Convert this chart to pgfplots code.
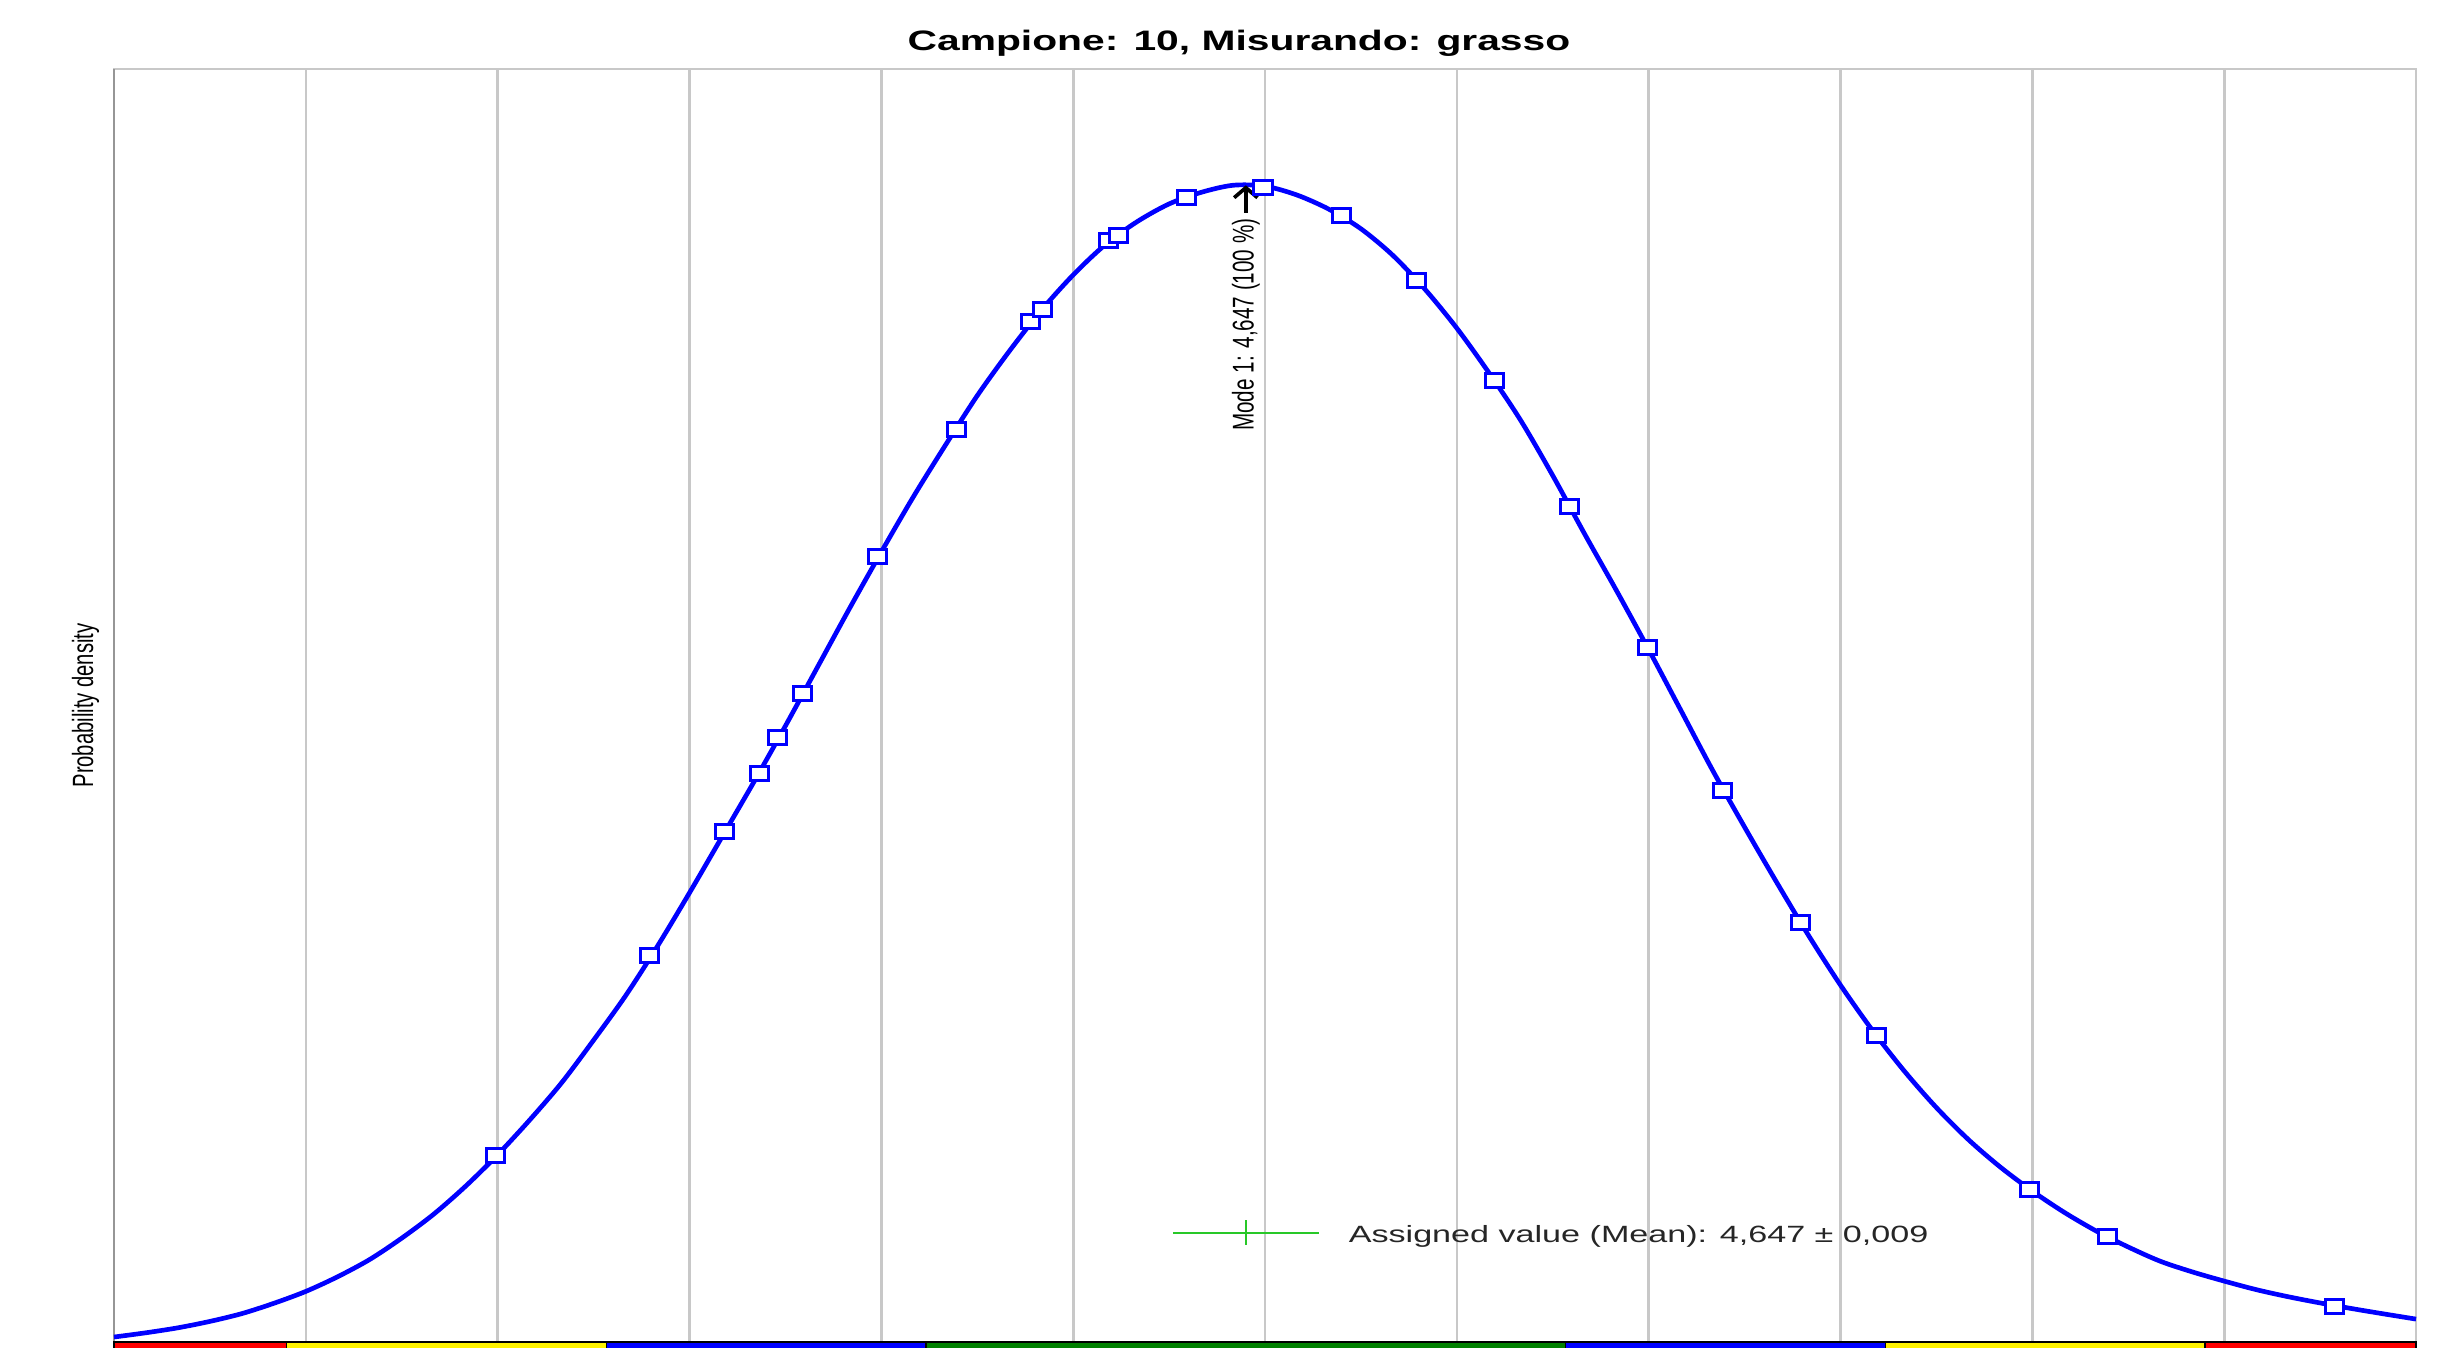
\documentclass[border=0pt]{standalone}
\usepackage{pgfplots}
\pgfplotsset{compat=1.18}
\usepackage{fontspec}
\setmainfont{Liberation Sans}
\usetikzlibrary{arrows.meta}
\definecolor{gridgray}{RGB}{200,200,200}
\definecolor{axgray}{RGB}{150,150,150}
\definecolor{lgreen}{RGB}{40,200,40}
\definecolor{bandgreen}{RGB}{0,128,0}
\definecolor{pureblue}{RGB}{0,0,255}

\pgfplotstableread{
x y
4.470 0.028
4.475 0.052
4.480 0.080
4.485 0.116
4.490 0.160
4.495 0.218
4.500 0.285
4.505 0.368
4.510 0.465
4.515 0.585
4.520 0.720
4.525 0.878
4.530 1.055
4.535 1.250
4.540 1.460
4.545 1.700
4.550 1.950
4.555 2.230
4.560 2.530
4.565 2.840
4.570 3.150
4.575 3.470
4.580 3.800
4.585 4.130
4.590 4.450
4.595 4.760
4.600 5.050
4.605 5.330
4.610 5.580
4.615 5.810
4.620 6.010
4.625 6.180
4.630 6.310
4.635 6.410
4.640 6.475
4.645 6.515
4.650 6.510
4.655 6.460
4.660 6.380
4.665 6.270
4.670 6.120
4.675 5.930
4.680 5.710
4.685 5.460
4.690 5.190
4.695 4.880
4.700 4.550
4.705 4.230
4.710 3.900
4.715 3.560
4.720 3.220
4.725 2.900
4.730 2.590
4.735 2.290
4.740 2.010
4.745 1.755
4.750 1.525
4.755 1.320
4.760 1.140
4.765 0.985
4.770 0.850
4.775 0.730
4.780 0.625
4.785 0.535
4.790 0.455
4.795 0.395
4.800 0.343
4.805 0.295
4.810 0.255
4.815 0.220
4.820 0.188
4.825 0.158
4.830 0.129
}\curvedata

\pgfplotstableread{
x y
4.5297 1.052
4.5538 2.175
4.5655 2.877
4.5709 3.202
4.5738 3.404
4.5777 3.650
4.5894 4.422
4.6018 5.142
4.6133 5.748
4.6152 5.818
4.6255 6.204
4.6271 6.233
4.6377 6.448
4.6497 6.505
4.6620 6.346
4.6737 5.976
4.6859 5.414
4.6976 4.703
4.7098 3.913
4.7215 3.106
4.7337 2.360
4.7456 1.728
4.7695 0.858
4.7817 0.595
4.8173 0.200
}\markdata

\begin{document}
\begin{tikzpicture}
\useasboundingbox (-34.2pt,-1.5pt) rectangle (699pt,402.6pt);
\begin{axis}[
  at={(0,0)}, anchor=south west,
  scale only axis, width=690.6pt, height=381.9pt,
  xmin=4.47, xmax=4.83, ymin=0, ymax=7.17,
  xtick={4.50,4.53,4.56,4.59,4.62,4.65,4.68,4.71,4.74,4.77,4.80},
  xticklabels={}, ytick=\empty,
  major tick length=0pt,
  xmajorgrids, grid style={gridgray, line width=0.8pt},
  axis line style={draw=gridgray, line width=0.8pt},
  clip=false,
  ylabel={\scalebox{1}[1.45]{Probability density}},
  ylabel style={font=\fontsize{6.06}{7}\selectfont, at={(rel axis cs:-0.0061,0.5)}, anchor=south, inner sep=0pt},
]
% left axis line
\draw[axgray, line width=0.8pt] (rel axis cs:0,0) -- (rel axis cs:0,1);

% performance bands under the axis
\fill[red, draw=black, line width=0.4pt] (axis cs:4.470,0) rectangle (axis cs:4.497,-0.06);
\fill[yellow, draw=black, line width=0.4pt] (axis cs:4.497,0) rectangle (axis cs:4.547,-0.06);
\fill[pureblue, draw=black, line width=0.4pt] (axis cs:4.547,0) rectangle (axis cs:4.597,-0.06);
\fill[bandgreen, draw=black, line width=0.4pt] (axis cs:4.597,0) rectangle (axis cs:4.697,-0.06);
\fill[pureblue, draw=black, line width=0.4pt] (axis cs:4.697,0) rectangle (axis cs:4.747,-0.06);
\fill[yellow, draw=black, line width=0.4pt] (axis cs:4.747,0) rectangle (axis cs:4.797,-0.06);
\fill[red, draw=black, line width=0.4pt] (axis cs:4.797,0) rectangle (axis cs:4.830,-0.06);

% density curve
\addplot[pureblue, line width=1.4pt, smooth, no markers] table[x=x,y=y] {\curvedata};
\addplot[only marks, mark=square*, mark size=2.1pt,
  mark options={fill=white, draw=pureblue, line width=0.9pt, xscale=1.3}] table[x=x,y=y] {\markdata};

% mode annotation
\draw[-{Straight Barb[length=3pt,width=7pt]}, line width=1.1pt, black] (axis cs:4.647,6.36) -- (axis cs:4.647,6.515);
\node[rotate=90, inner sep=0pt, anchor=center, font=\fontsize{6.2}{7}\selectfont] at (axis cs:4.647,5.73) {\scalebox{1}[1.45]{Mode 1: 4,647 (100 \%)}};

% assigned value
\addplot[lgreen, line width=0.6pt, mark=|, mark size=3.75pt,
  error bars/.cd, x dir=both, x explicit, error mark=none,
  error bar style={lgreen, line width=0.6pt}]
  coordinates {(4.647,0.614) +- (0.0114,0)};
\node[anchor=base west, inner sep=0pt, font=\fontsize{7.06}{8}\selectfont, text=black!85] at (axis cs:4.663,0.560) {\scalebox{1.45}[1]{Assigned value (Mean): 4,647 ± 0,009}};

% title
\node[anchor=base, inner sep=0pt, yshift=5.5pt, font=\bfseries\fontsize{8.44}{10}\selectfont] at (rel axis cs:0.4887,1) {\scalebox{1.45}[1]{Campione: 10, Misurando: grasso}};
\end{axis}
\end{tikzpicture}
\end{document}
